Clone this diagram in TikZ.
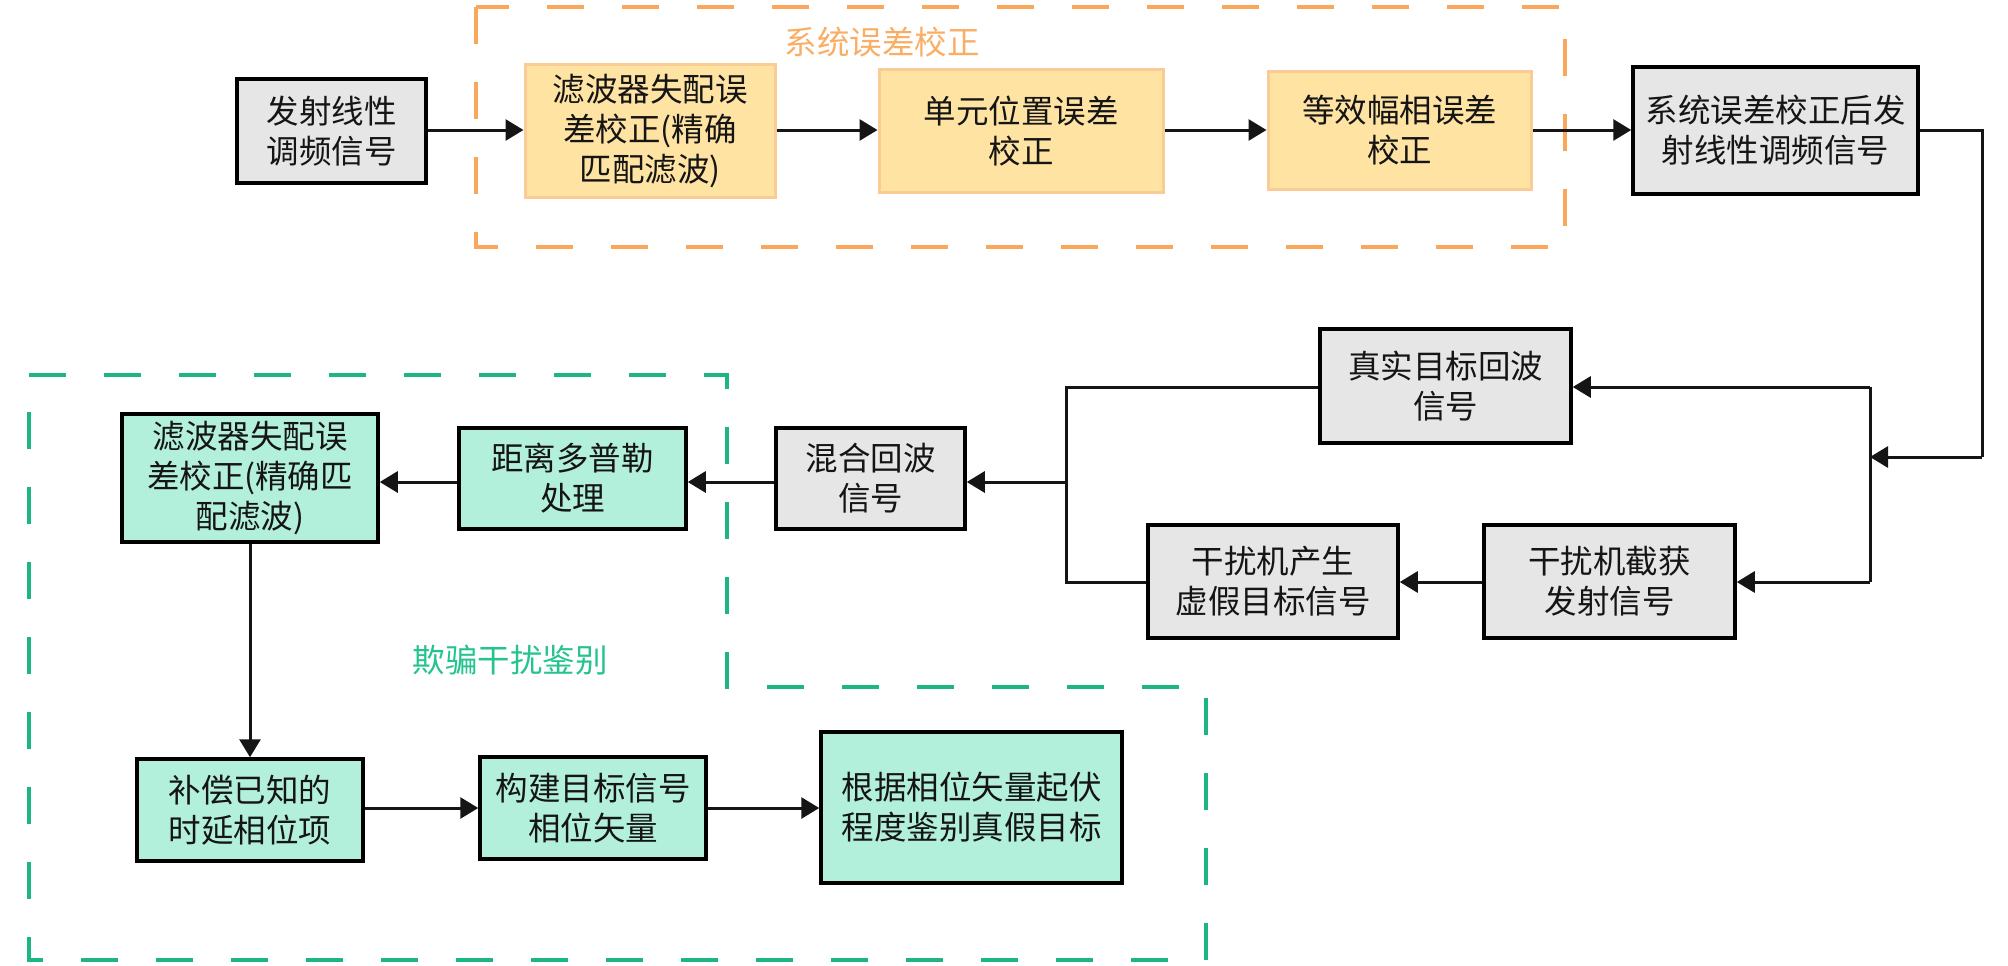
\documentclass[tikz,border=0pt]{standalone}
\usepackage{fontspec}
\setmainfont{Noto Sans CJK SC}
\usetikzlibrary{arrows.meta}
\definecolor{odash}{HTML}{F9A85B}
\definecolor{olabel}{HTML}{F9AE66}
\definecolor{ofill}{HTML}{FFE3A3}
\definecolor{oline}{HTML}{FBCB96}
\definecolor{gdash}{HTML}{1DB584}
\definecolor{glabel}{HTML}{25C48F}
\definecolor{gfill}{HTML}{B3F0DC}
\definecolor{grayfill}{HTML}{E6E6E6}
\definecolor{ink}{HTML}{151515}
\begin{document}
\begin{tikzpicture}[x=1pt,y=-1pt,
  txt/.style={font=\fontsize{32.5}{40}\selectfont, text=ink, align=center, inner sep=0pt},
  gbox/.style={txt, draw=black, line width=3.5pt, fill=grayfill},
  obox/.style={txt, draw=oline, line width=3pt, fill=ofill},
  tbox/.style={txt, draw=black, line width=3.5pt, fill=gfill},
  conn/.style={draw=ink, line width=3pt},
  arr/.style={conn, -{Triangle[length=18pt,width=21pt]}},
  regionline/.style={line width=3.5pt, dash pattern=on 37pt off 38pt}
]
\useasboundingbox (0,0) rectangle (2008,966);

% dashed regions
\draw[regionline, draw=odash] (476,7) rectangle (1565,247);
\draw[regionline, draw=gdash] (29,375) -- (727,375) -- (727,687) -- (1206,687) -- (1206,960) -- (29,960) -- cycle;

\node[txt, text=olabel] (lsys) at (882,42) {系统误差校正};
\node[txt, text=glabel] (ldec) at (510,660) {欺骗干扰鉴别};

% top row
\node[gbox, minimum width=189pt, minimum height=104pt] (tx) at (331.5,131) {发射线性\\调频信号};
\node[obox, minimum width=250pt, minimum height=132pt] (o1) at (650,131) {滤波器失配误\\差校正(精确\\匹配滤波)};
\node[obox, minimum width=284pt, minimum height=122pt] (o2) at (1021,131) {单元位置误差\\校正};
\node[obox, minimum width=263pt, minimum height=117pt] (o3) at (1399.5,130.5) {等效幅相误差\\校正};
\node[gbox, minimum width=285pt, minimum height=127pt] (tx2) at (1775.5,130.5) {系统误差校正后发\\射线性调频信号};

% middle
\node[gbox, minimum width=251pt, minimum height=114pt] (real) at (1445.5,386) {真实目标回波\\信号};
\node[gbox, minimum width=251pt, minimum height=113pt] (icpt) at (1609.5,581.5) {干扰机截获\\发射信号};
\node[gbox, minimum width=250pt, minimum height=113pt] (fake) at (1273,581.5) {干扰机产生\\虚假目标信号};
\node[gbox, minimum width=189pt, minimum height=101pt] (mix) at (870.5,478.5) {混合回波\\信号};
\node[tbox, minimum width=227pt, minimum height=101pt] (rd) at (572.5,478.5) {距离多普勒\\处理};
\node[tbox, minimum width=256pt, minimum height=128pt] (mf) at (250,478) {滤波器失配误\\差校正(精确匹\\配滤波)};

% bottom
\node[tbox, minimum width=226pt, minimum height=102pt] (comp) at (250,810) {补偿已知的\\时延相位项};
\node[tbox, minimum width=226pt, minimum height=102pt] (build) at (593,808) {构建目标信号\\相位矢量};
\node[tbox, minimum width=301pt, minimum height=151pt] (judge) at (971.5,807.5) {根据相位矢量起伏\\程度鉴别真假目标};

% coordinates
\coordinate (rt) at (1982,130);
\coordinate (rb) at (1982,457);
\coordinate (j1) at (1870,457);
\coordinate (jt) at (1870,387);
\coordinate (jb) at (1870,582);
\coordinate (lt) at (1066,387);
\coordinate (lb) at (1066,582);
\coordinate (lm) at (1066,482);

% connectors
\draw[arr] (tx.east |- 0,130) -- (o1.west |- 0,130);
\draw[arr] (o1.east |- 0,130) -- (o2.west |- 0,130);
\draw[arr] (o2.east |- 0,130) -- (o3.west |- 0,130);
\draw[arr] (o3.east |- 0,130) -- (tx2.west |- 0,130);
\draw[conn] (tx2.east |- rt) -- (rt) -- (rb);
\draw[arr] (rb) -- (j1);
\draw[conn] (jt) -- (jb);
\draw[arr] (jt) -- (real.east |- jt);
\draw[arr] (jb) -- (icpt.east |- jb);
\draw[arr] (icpt.west |- jb) -- (fake.east |- jb);
\draw[conn] (real.west |- lt) -- (lt) -- (lb) -- (fake.west |- lb);
\draw[arr] (lm) -- (mix.east |- lm);
\draw[arr] (mix.west |- lm) -- (rd.east |- lm);
\draw[arr] (rd.west |- lm) -- (mf.east |- lm);
\draw[arr] (mf.south) -- (comp.north);
\draw[arr] (comp.east |- 0,808) -- (build.west |- 0,808);
\draw[arr] (build.east |- 0,808) -- (judge.west |- 0,808);
\end{tikzpicture}
\end{document}
